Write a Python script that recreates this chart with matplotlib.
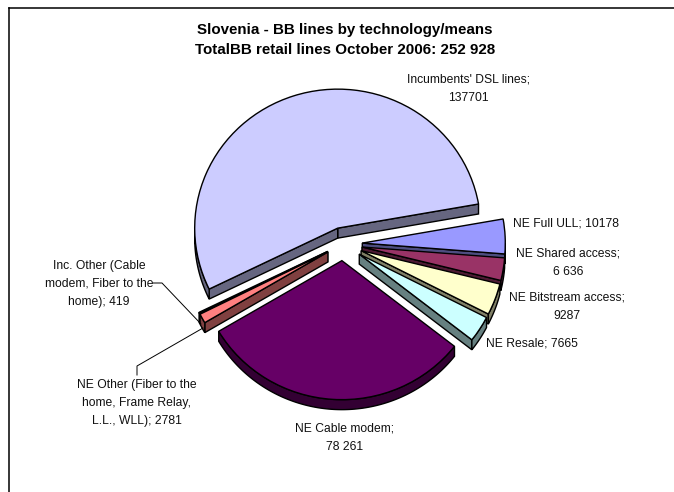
import matplotlib
matplotlib.use('Agg')
import numpy as np
import matplotlib.pyplot as plt
from matplotlib.lines import Line2D
from matplotlib.patches import Polygon

W, H = 674, 492

labels = ["Incumbents' DSL lines;\n137701", "NE Full ULL; 10178", "NE Shared access;\n6 636",
          "NE Bitstream access;\n9287", "NE Resale; 7665", "NE Cable modem;\n78 261",
          "NE Other (Fiber to the\nhome, Frame Relay,\nL.L., WLL); 2781",
          "Inc. Other (Cable\nmodem, Fiber to the\nhome); 419"]
values = [137701, 10178, 6636, 9287, 7665, 78261, 2781, 419]
top_colors = ['#CCCCFF', '#9999FF', '#993366', '#FFFFCC', '#CCFFFF', '#660066', '#FF8080', '#0066CC']
side_colors = ['#666680', '#4D4D80', '#4D1A33', '#808066', '#668080', '#330033', '#804040', '#003366']

plt.rcParams['font.family'] = ['Liberation Sans', 'DejaVu Sans']

# pie centre and radii in pixels of the picture
cx, cy = 343, 244
rx, ry = 143, 139
depth = 10 / ry

fig = plt.figure(figsize=(W / 100, H / 100), dpi=100)
ax = fig.add_axes([0, 0, 1, 1])

wedges, _ = ax.pie(values, colors=top_colors, startangle=206, counterclock=False,
                   explode=[0.12, 0.135, 0.135, 0.135, 0.135, 0.12, 0.12, 0.12],
                   wedgeprops=dict(edgecolor='black', linewidth=1.0))
ax.set_aspect('auto')
ax.set_xlim(-cx / rx, (W - cx) / rx)
ax.set_ylim((cy - H) / ry, cy / ry)
ax.set_axis_off()


def point(w, ang):
    a = np.radians(ang)
    return w.center[0] + w.r * np.cos(a), w.center[1] + w.r * np.sin(a)


def side_face(xy, color, z):
    xy = np.array(xy)
    low = xy - [0, depth]
    poly = np.vstack([xy, low[::-1]])
    ax.add_patch(Polygon(poly, closed=True, facecolor=color, edgecolor='black', linewidth=1.0, zorder=z))


# back slices first, each one side faces then top
order = np.argsort([-w.center[1] for w in wedges])
for n, i in enumerate(order):
    w = wedges[i]
    z = 2 + n
    t1, t2 = w.theta1, w.theta2
    # flat cut faces
    for ang, sign in ((t1, -1), (t2, 1)):
        if np.sin(np.radians(ang + sign * 90)) < 0:
            side_face([w.center, point(w, ang)], side_colors[i], z)
    # rim, only where it faces the viewer
    angs = np.linspace(t1, t2, 200)
    angs = angs[np.sin(np.radians(angs)) < 0]
    if len(angs) > 1:
        gaps = np.where(np.diff(angs) > 2)[0]
        for part in np.split(angs, gaps + 1):
            side_face([point(w, a) for a in part], side_colors[i], z)
    w.set_zorder(z + 0.5)


def fx(px):
    return (px - cx) / rx


def fy(py):
    return (cy - py) / ry


txt = dict(fontsize=8.7, color='#111111', ha='center', va='center', linespacing=1.67, zorder=30)
ax.text(fx(468.5), fy(89), labels[0], **txt)
ax.text(fx(566), fy(223), labels[1], **txt)
ax.text(fx(568), fy(263), labels[2], **txt)
ax.text(fx(567), fy(307), labels[3], **txt)
ax.text(fx(532), fy(343), labels[4], **txt)
ax.text(fx(345), fy(437.5), labels[5], **txt)
ax.text(fx(137), fy(403), labels[6], **txt)
ax.text(fx(99), fy(284), labels[7], **txt)

# leader lines
ax.plot([fx(153), fx(162), fx(201)], [fy(283), fy(283), fy(324)], color='black', lw=0.7, zorder=30)
ax.plot([fx(137), fx(137), fx(203)], [fy(375), fy(366), fy(328)], color='black', lw=0.7, zorder=30)

fig.text(345 / W, 1 - 30 / H, 'Slovenia - BB lines by technology/means', fontsize=10.9, fontweight='bold',
         ha='center', va='center')
fig.text(345 / W, 1 - 50 / H, 'TotalBB retail lines October 2006: 252 928', fontsize=10.9, fontweight='bold',
         ha='center', va='center')

# chart frame, only left and top fall inside the picture
fig.add_artist(Line2D([8.5 / W, 8.5 / W], [0, 1 - 7.5 / H], color='black', lw=1.1))
fig.add_artist(Line2D([8.5 / W, 1], [1 - 7.5 / H, 1 - 7.5 / H], color='black', lw=1.1))

fig.savefig('out.png', dpi=100)
